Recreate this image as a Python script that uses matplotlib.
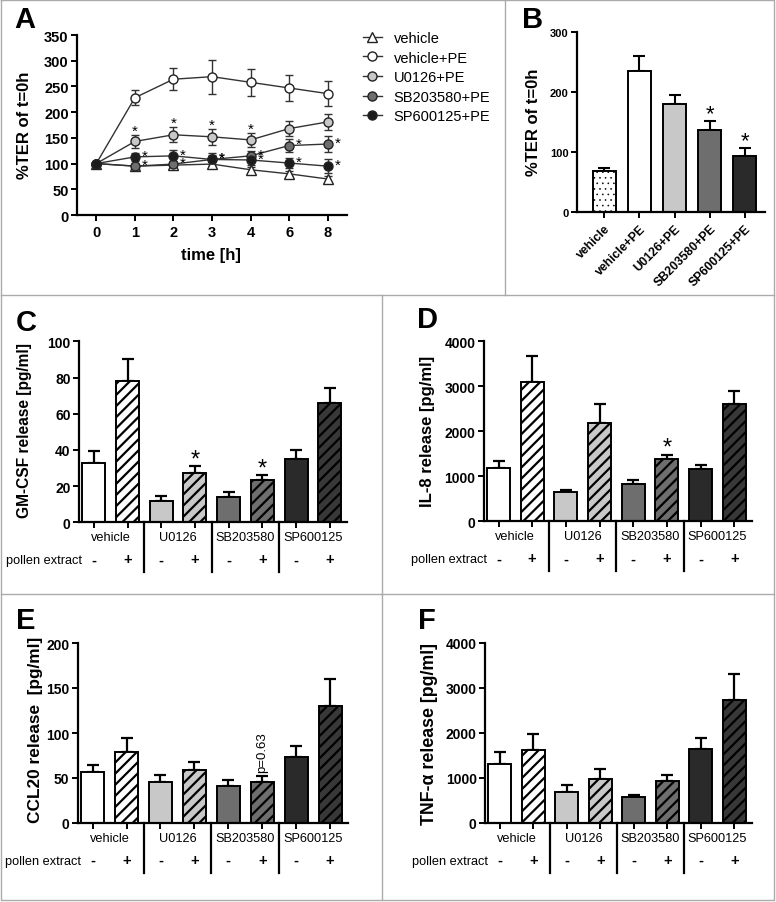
import numpy as np
import matplotlib
matplotlib.use('Agg')
import matplotlib.pyplot as plt
from matplotlib.lines import Line2D
import matplotlib.transforms as mtransforms

plt.rcParams['font.family'] = ['Liberation Sans', 'DejaVu Sans']
plt.rcParams['hatch.linewidth'] = 1.6

# ---------------- data ----------------
time_labels = ['0', '1', '2', '3', '4', '6', '8']
ter_vehicle = [100, 95, 97, 99, 88, 80, 70]
ter_vehicle_err = [0, 4, 4, 5, 6, 5, 6]
ter_vehicle_pe = [100, 228, 264, 269, 258, 247, 236]
ter_vehicle_pe_err = [0, 15, 21, 33, 26, 25, 25]
ter_u0126 = [100, 143, 156, 152, 146, 168, 181]
ter_u0126_err = [0, 12, 15, 15, 13, 14, 16]
ter_sb = [100, 95, 99, 108, 115, 135, 138]
ter_sb_err = [0, 5, 6, 9, 10, 13, 15]
ter_sp = [100, 113, 115, 108, 107, 101, 95]
ter_sp_err = [0, 8, 11, 12, 10, 10, 13]
series_names = ['vehicle', 'vehicle+PE', 'U0126+PE', 'SB203580+PE', 'SP600125+PE']
u0126_sig = [1, 2, 3, 4]
sb_sig = [1, 2, 3, 4, 5, 6]
sp_sig = [1, 2, 3, 4, 5, 6]

b_labels = ['vehicle', 'vehicle+PE', 'U0126+PE', 'SB203580+PE', 'SP600125+PE']
b_vals = [69, 236, 180, 137, 94]
b_err = [5, 24, 15, 16, 13]
b_sig = [3, 4]

group_names = ['vehicle', 'U0126', 'SB203580', 'SP600125']
pe_signs = ['-', '+', '-', '+', '-', '+', '-', '+']

gmcsf = [33, 78, 12, 27, 14, 23.5, 35, 66]
gmcsf_err = [6.5, 12.3, 2.8, 4, 2.6, 2.4, 5, 8]
gmcsf_sig = [3, 5]

il8 = [1185, 3089, 652, 2178, 822, 1393, 1155, 2600]
il8_err = [163, 592, 44, 422, 96, 88, 89, 289]
il8_sig = [5]

ccl20 = [56.5, 79, 45.5, 58.5, 41, 46, 73.5, 130]
ccl20_err = [8, 15.5, 8, 9, 6.5, 6.5, 12.5, 30]

tnf = [1299, 1618, 690, 975, 575, 925, 1632, 2723]
tnf_err = [282, 356, 148, 215, 45, 126, 253, 579]

# ---------------- layout helpers ----------------
W, H = 776, 903
fig = plt.figure(figsize=(W / 100, H / 100), dpi=100)


def add_ax(l, t, r, b):
    return fig.add_axes([l / W, 1 - b / H, (r - l) / W, (b - t) / H])


def ftext(x, y, s, **kw):
    fig.text(x / W, 1 - y / H, s, **kw)


def fline(xs, ys):
    fig.add_artist(Line2D([x / W for x in xs], [1 - y / H for y in ys],
                          color='#ababab', lw=1.0, transform=fig.transFigure))


def style_axes(ax, labelsize):
    for s in ['top', 'right']:
        ax.spines[s].set_visible(False)
    for s in ['left', 'bottom']:
        ax.spines[s].set_linewidth(1.6)
    ax.tick_params(direction='out', length=4, width=1.4, labelsize=labelsize, pad=2)
    for lab in ax.get_yticklabels() + ax.get_xticklabels():
        lab.set_fontweight('bold')


# panel borders
fline([1, 774, 774, 1, 1], [1, 1, 901, 901, 1])
fline([1, 774], [296.3, 296.3])
fline([505, 505], [1, 296.3])
fline([1, 774], [595, 595])
fline([382.3, 382.3], [296.3, 595])
fline([382.3, 382.3], [595, 901])

# ---------------- Panel A ----------------
axA = add_ax(77, 36, 347, 216)
xA = np.arange(len(time_labels))
A_series = [
    (ter_vehicle, ter_vehicle_err, '^', 'white'),
    (ter_vehicle_pe, ter_vehicle_pe_err, 'o', 'white'),
    (ter_u0126, ter_u0126_err, 'o', '#c8c8c8'),
    (ter_sb, ter_sb_err, 'o', '#6e6e6e'),
    (ter_sp, ter_sp_err, 'o', '#1c1c1c'),
]
for name, (vals, errs, mk, face) in zip(series_names, A_series):
    axA.errorbar(xA, vals, yerr=errs, fmt='none', ecolor='#333333',
                 elinewidth=1.0, capsize=3.2, capthick=1.0, zorder=2)
    axA.plot(xA, vals, '-', color='#333333', lw=1.0, marker=mk, mfc=face,
             mec='#222222', mew=1.0, ms=6.5, label=name, zorder=3)
axA.set_xlim(-0.5, 6.5)
axA.set_ylim(0, 350)
axA.set_yticks(np.arange(0, 351, 50))
axA.set_xticks(xA)
axA.set_xticklabels(time_labels)
style_axes(axA, 10.5)
axA.tick_params(axis='x', pad=3)
for i in u0126_sig:
    axA.annotate('*', xy=(i, ter_u0126[i] + ter_u0126_err[i]), xytext=(0, 3),
                 textcoords='offset points', ha='center', va='center', fontsize=11)
for i in sb_sig:
    axA.annotate('*', xy=(i, ter_sb[i]), xytext=(7, 1),
                 textcoords='offset points', ha='center', va='center', fontsize=11)
for i in sp_sig:
    axA.annotate('*', xy=(i, ter_sp[i]), xytext=(7, 1),
                 textcoords='offset points', ha='center', va='center', fontsize=11)
axA.legend(loc='upper left', bbox_to_anchor=(363 / W, 1 - 32 / H),
           bbox_transform=fig.transFigure, frameon=False, fontsize=10.5,
           handlelength=1.3, handletextpad=0.8, labelspacing=0.38,
           borderpad=0, borderaxespad=0)
ftext(25, 125, '%TER of t=0h', rotation=90, ha='center', va='center',
      fontsize=12, fontweight='bold')
ftext(211, 256, 'time [h]', ha='center', va='center', fontsize=12, fontweight='bold')
ftext(25, 20, 'A', ha='center', va='center', fontsize=21, fontweight='bold')

# ---------------- Panel B ----------------
axB = add_ax(577, 33.3, 765, 213.3)
xB = np.arange(len(b_labels))
with plt.rc_context({'hatch.linewidth': 0.4}):
    bars = axB.bar(xB, b_vals, width=0.65,
                   color=['white', 'white', '#c8c8c8', '#6e6e6e', '#2a2a2a'],
                   edgecolor='black', linewidth=1.4, zorder=2)
    bars[0].set_hatch('...')
axB.errorbar(xB, b_vals, yerr=[np.zeros(len(b_vals)), b_err], fmt='none',
             ecolor='black', elinewidth=1.5, capsize=4.3, capthick=1.5, zorder=1)
axB.set_xlim(-0.77, 4.57)
axB.set_ylim(0, 300)
axB.set_yticks([0, 100, 200, 300])
axB.set_xticks(xB)
axB.set_xticklabels(b_labels, rotation=45, ha='right', va='top',
                    rotation_mode='anchor')
style_axes(axB, 8)
axB.tick_params(axis='x', labelsize=8.8, pad=3)
for i in b_sig:
    axB.annotate('*', xy=(i, b_vals[i] + b_err[i]), xytext=(0, 5),
                 textcoords='offset points', ha='center', va='center', fontsize=16)
ftext(533, 122, '%TER of t=0h', rotation=90, ha='center', va='center',
      fontsize=12, fontweight='bold')
ftext(533, 20, 'B', ha='center', va='center', fontsize=21, fontweight='bold')

# ---------------- bar panels C-F ----------------
fills = ['white', 'white', '#c8c8c8', '#c8c8c8', '#6e6e6e', '#6e6e6e',
         '#2a2a2a', '#383838']
hatches = [None, '///'] * 4


def bar_panel(rect, vals, errs, ymax, yticks, sig, ylabel, label_xy, letter,
              letter_xy, label_size):
    l, t, r, b = rect
    ax = add_ax(l, t, r, b)
    axw, axh = r - l, b - t
    x = np.arange(len(vals))
    bs = ax.bar(x, vals, width=0.68, color=fills, edgecolor='black',
                linewidth=1.4, zorder=2)
    for bar, h in zip(bs, hatches):
        if h:
            bar.set_hatch(h)
    ax.errorbar(x, vals, yerr=[np.zeros(len(vals)), errs], fmt='none',
                ecolor='black', elinewidth=1.6, capsize=4.3, capthick=1.6, zorder=1)
    ax.set_xlim(-0.44, 7.52)
    ax.set_ylim(0, ymax)
    ax.set_yticks(yticks)
    ax.set_xticks(x)
    ax.set_xticklabels([])
    style_axes(ax, 10)
    trans = mtransforms.blended_transform_factory(ax.transData, ax.transAxes)
    for xb in [1.5, 3.5, 5.5]:
        ax.plot([xb, xb], [0, -50 / axh], transform=trans, clip_on=False,
                color='black', lw=1.6)
    for g, name in enumerate(group_names):
        ax.text(2 * g + 0.5, -15 / axh, name, transform=trans, ha='center',
                va='center', fontsize=9.2)
    for i, s in enumerate(pe_signs):
        ax.text(i, -37 / axh, s, transform=trans, ha='center', va='center',
                fontsize=10.5, fontweight='bold')
    ax.text(-73 / axw, -38 / axh, 'pollen extract', transform=ax.transAxes,
            ha='left', va='center', fontsize=9.2)
    for i in sig:
        ax.annotate('*', xy=(i, vals[i] + errs[i]), xytext=(0, 5),
                    textcoords='offset points', ha='center', va='center',
                    fontsize=17)
    ftext(label_xy[0], label_xy[1], ylabel, rotation=90, ha='center',
          va='center', fontsize=label_size, fontweight='bold')
    ftext(letter_xy[0], letter_xy[1], letter, ha='center', va='center',
          fontsize=21, fontweight='bold')
    return ax


axC = bar_panel((79, 342.3, 347.3, 523.3), gmcsf, gmcsf_err, 100,
                [0, 20, 40, 60, 80, 100], gmcsf_sig, 'GM-CSF release [pg/ml]',
                (25, 431), 'C', (26, 323), 11.2)
axD = bar_panel((483.7, 342.3, 751.7, 522.3), il8, il8_err, 4000,
                [0, 1000, 2000, 3000, 4000], il8_sig, 'IL-8 release [pg/ml]',
                (427, 431), 'D', (427, 320), 12)
axE = bar_panel((77.7, 644, 347.7, 824), ccl20, ccl20_err, 200,
                [0, 50, 100, 150, 200], [], 'CCL20 release  [pg/ml]',
                (36, 730), 'E', (26, 621), 12.4)
axE.annotate('p=0.63', xy=(5, ccl20[5] + ccl20_err[5]), xytext=(0, 3),
             textcoords='offset points', rotation=90, ha='center', va='bottom',
             fontsize=9.5)
axF = bar_panel((485, 644, 751.7, 823.7), tnf, tnf_err, 4000,
                [0, 1000, 2000, 3000, 4000], [], 'TNF-α release [pg/ml]',
                (430, 734), 'F', (427, 621), 12.8)

fig.savefig('out.png', dpi=100)
